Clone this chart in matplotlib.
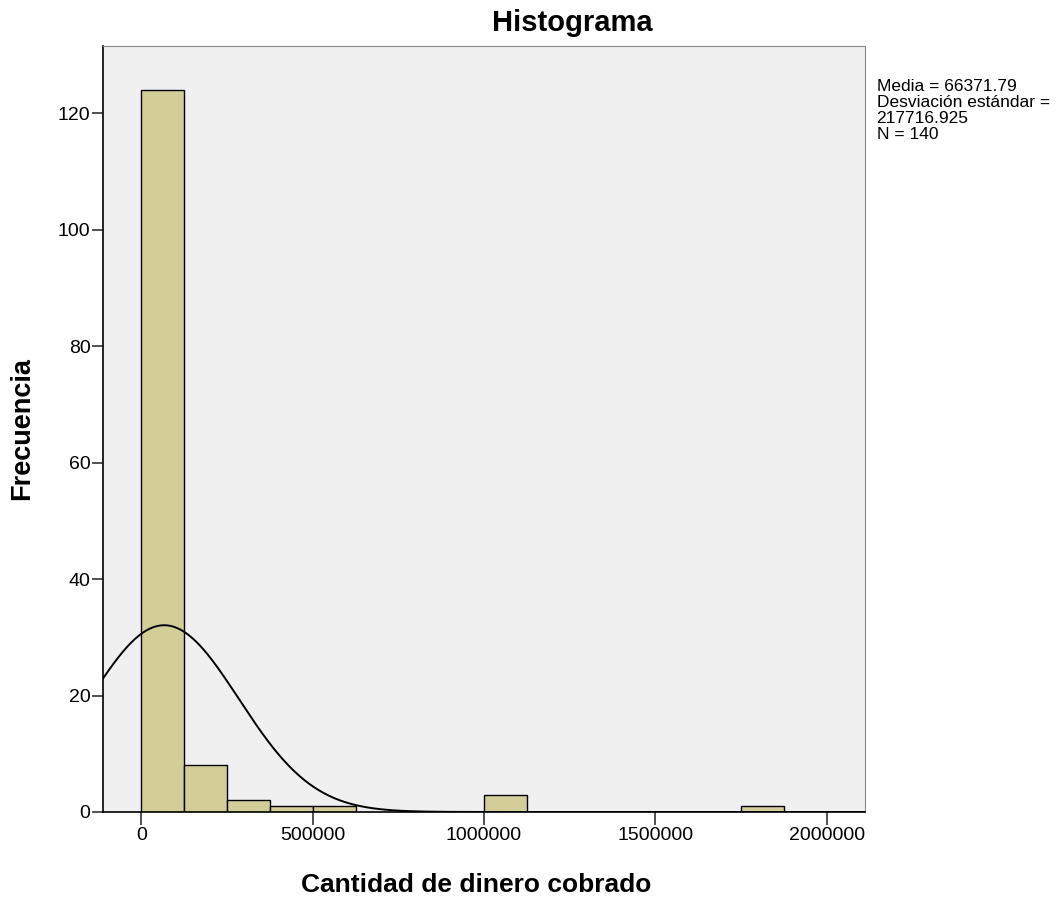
import numpy as np
import matplotlib.pyplot as plt

plt.rcParams['font.family'] = ['Liberation Sans', 'DejaVu Sans']

# histogram bins (SPSS output), bin width 125000
bin_starts = [0, 125000, 250000, 375000, 500000, 1000000, 1750000]
counts = [124, 8, 2, 1, 1, 3, 1]
bin_width = 125000

media = 66371.79
desv = 217716.925
n = 140

fig = plt.figure(figsize=(10.6, 9.01), dpi=100)
ax = fig.add_axes([0.0972, 0.0988, 0.7188, 0.8506])
ax.set_facecolor('#F0F0F0')

ax.bar(bin_starts, counts, width=bin_width, align='edge',
       color='#D3CE97', edgecolor='black', linewidth=1.0, zorder=2)

# normal curve scaled to counts
xs = np.linspace(-112000, 2112000, 600)
ys = n * bin_width / (desv * np.sqrt(2 * np.pi)) * np.exp(-0.5 * ((xs - media) / desv) ** 2)
ax.plot(xs, ys, color='black', linewidth=1.4, zorder=3)

ax.set_xlim(-112000, 2112000)
ax.set_ylim(0, 131.6)
ax.set_xticks([0, 500000, 1000000, 1500000, 2000000])
ax.set_xticklabels(['0', '500000', '1000000', '1500000', '2000000'])
ax.set_yticks([0, 20, 40, 60, 80, 100, 120])

for s in ['top', 'right']:
    ax.spines[s].set_color('#888888')
for s in ['left', 'bottom']:
    ax.spines[s].set_color('black')
    ax.spines[s].set_linewidth(1.2)
ax.tick_params(axis='y', length=8, width=1.2, labelsize=14, pad=1, color='#333333')
ax.tick_params(axis='x', length=9, width=1.2, labelsize=14, pad=2, color='#333333')

fig.text(0.54, 0.975, 'Histograma', fontsize=21, fontweight='bold', ha='center', va='center')
ax.set_xlabel('Cantidad de dinero cobrado', fontsize=19, fontweight='bold', va='center')
ax.xaxis.set_label_coords(0.49, -0.095)
ax.set_ylabel('Frecuencia', fontsize=19.5, fontweight='bold', va='center')
ax.yaxis.set_label_coords(-0.106, 0.5)

fig.text(0.827, 0.912, 'Media = 66371.79\nDesviación estándar =\n217716.925\nN = 140',
         fontsize=12.5, va='top', ha='left', linespacing=1.08)

fig.savefig('out.png', dpi=100)
